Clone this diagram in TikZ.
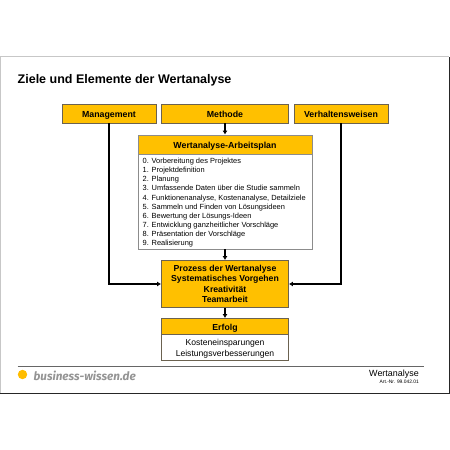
\documentclass[tikz,border=0pt]{standalone}
\usepackage{fontspec}
\setmainfont{Liberation Sans}
\newfontfamily\logofont{Fira Sans}
\usetikzlibrary{arrows.meta}
\definecolor{gold}{HTML}{FFC000}
\definecolor{edgeg}{HTML}{6B6250}
\definecolor{edgegray}{HTML}{8C8C8C}
\tikzset{x=1pt,y=-1pt,
 hd/.style={draw=edgeg,line width=0.8pt,fill=gold,anchor=center,inner sep=0pt,font=\fontsize{8.8}{10}\selectfont\bfseries,align=center},
 oneline/.style={text height=7pt,text depth=0pt},
 body/.style={draw=edgegray,line width=0.8pt,fill=white},
 conn/.style={line width=1.7pt,-{Latex[length=4pt,width=5pt]}},
}
\begin{document}
\begin{tikzpicture}
\useasboundingbox (0,0) rectangle (450,450);
\fill[white] (0,0) rectangle (450,450);
\draw[line width=0.8pt,draw=black!22] (0.4,393) -- (0.4,56.5) -- (449.3,56.5);
\draw[line width=0.8pt,draw=black!85] (0,393.4) -- (449.3,393.4) -- (449.3,56.5);
\node[anchor=west,inner sep=0pt,font=\fontsize{12.5}{14}\selectfont\bfseries] (title) at (17.5,80.5) {Ziele und Elemente der Wertanalyse};
\node[hd,oneline,minimum width=94pt,minimum height=19pt] (mgmt) at (109,113.5) {Management};
\node[hd,oneline,minimum width=127pt,minimum height=19pt] (meth) at (225,113.5) {Methode};
\node[hd,oneline,minimum width=94pt,minimum height=19pt] (verh) at (341,113.5) {Verhaltensweisen};
\node[hd,oneline,draw=edgegray,minimum width=174pt,minimum height=19pt] (aph) at (225,144.5) {Wertanalyse-Arbeitsplan};
\node[body,minimum width=174pt,minimum height=95pt,inner sep=0pt] (apb) at (225,201.5) {};
\node[anchor=north west,inner sep=0pt,align=left,font=\fontsize{7.45}{9.05}\selectfont] (list) at (142.5,158.2) {0. Vorbereitung des Projektes\\1. Projektdefinition\\2. Planung\\3. Umfassende Daten über die Studie sammeln\\4. Funktionenanalyse, Kostenanalyse, Detailziele\\5. Sammeln und Finden von Lösungsideen\\6. Bewertung der Lösungs-Ideen\\7. Entwicklung ganzheitlicher Vorschläge\\8. Präsentation der Vorschläge\\9. Realisierung};
\node[hd,minimum width=127pt,minimum height=47pt,font=\fontsize{8.7}{10.4}\selectfont\bfseries] (proz) at (225,284) {Prozess der Wertanalyse\\Systematisches Vorgehen\\Kreativität\\Teamarbeit};
\node[hd,oneline,minimum width=127pt,minimum height=16pt,font=\fontsize{8.7}{9}\selectfont\bfseries] (erf) at (225,326.5) {Erfolg};
\node[draw=edgeg,line width=0.8pt,fill=white,minimum width=127pt,minimum height=26pt,inner sep=0pt,align=center,font=\fontsize{8.6}{10.4}\selectfont] (res) at (225,347.5) {\rule{0pt}{9pt}Kosteneinsparungen\\Leistungsverbesserungen};
\draw[conn] (meth) -- (aph);
\draw[conn] (apb) -- (proz);
\draw[conn] (proz) -- (erf);
\draw[conn] (mgmt.south) |- (proz.west);
\draw[conn] (verh.south) |- (proz.east);
\draw[line width=0.7pt,draw=black!60] (17.5,366.5) -- (423.5,366.5);
\fill[gold!95!orange] (22.5,374.5) circle (4.7pt);
\node[anchor=west,inner sep=0pt,font=\logofont\fontsize{11.7}{14}\selectfont\bfseries\itshape,text=black!42] (logo) at (33.5,375.5) {business-wissen.de};
\node[anchor=east,inner sep=0pt,font=\fontsize{8.95}{10}\selectfont] (wa) at (419,374) {Wertanalyse};
\node[anchor=east,inner sep=0pt,font=\fontsize{4.9}{5}\selectfont] (art) at (419,382) {Art.-Nr. 99.042.01};
\end{tikzpicture}
\end{document}
